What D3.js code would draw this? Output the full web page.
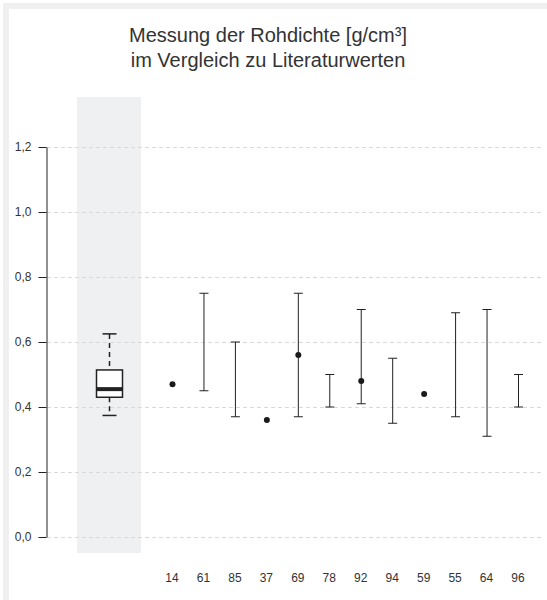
<!DOCTYPE html>
<html>
<head>
<meta charset="utf-8">
<script src="https://cdn.jsdelivr.net/npm/d3@7"></script>
<style>
  html, body { margin: 0; padding: 0; background: #ffffff; }
  svg { display: block; }
</style>
</head>
<body>
<svg id="chart" width="547" height="600"></svg>
<script>
const categories = ["14","61","85","37","69","78","92","94","59","55","64","96"];
const rangeLow  = [null,0.45,0.37,null,0.37,0.40,0.41,0.35,null,0.37,0.31,0.40];
const rangeHigh = [null,0.75,0.60,null,0.75,0.50,0.70,0.55,null,0.69,0.70,0.50];
const pointValues = [0.47,null,null,0.36,0.56,null,0.48,null,0.44,null,null,null];
// box plot of own measurements: [whiskerLow, q1, median, q3, whiskerHigh]
const boxStats = [0.374, 0.43, 0.455, 0.514, 0.625];
const yTicks = [0, 0.2, 0.4, 0.6, 0.8, 1.0, 1.2];
const titleLines = ["Messung der Rohdichte [g/cm³]", "im Vergleich zu Literaturwerten"];

const svg = d3.select("#chart");
const font = "'Liberation Sans', Arial, sans-serif";

// frame
svg.append("rect").attr("x",0).attr("y",0).attr("width",547).attr("height",600).attr("fill","#ffffff");
svg.append("rect").attr("x",3).attr("y",3).attr("width",560).attr("height",620).attr("fill","#f0f0f0");
svg.append("rect").attr("x",9).attr("y",9).attr("width",560).attr("height",620).attr("fill","#ffffff");

const y = d3.scaleLinear().domain([0, 1.2]).range([537, 147]);
const x = d3.scalePoint().domain(categories).range([172, 518]);
const boxX = 109.5;

const loc = d3.formatLocale({decimal: ",", thousands: ".", grouping: [3], currency: ["", "€"]});
const fmt = loc.format(".1f");

// grey band behind box plot
svg.append("rect").attr("x",77).attr("y",97).attr("width",64).attr("height",456).attr("fill","#eff0f2");

// gridlines
svg.append("g").selectAll("line").data(yTicks).join("line")
  .attr("x1",47).attr("x2",541)
  .attr("y1",d=>Math.round(y(d))+0.5).attr("y2",d=>Math.round(y(d))+0.5)
  .attr("stroke","#d9d9d9").attr("stroke-dasharray","4,3").attr("stroke-width",1);

// y axis
const yAxis = d3.axisLeft(y).tickValues(yTicks).tickFormat(fmt).tickSize(8).tickSizeOuter(0).tickPadding(7);
const gy = svg.append("g").attr("transform","translate(46.5,0)").call(yAxis);
gy.select(".domain").attr("stroke","#222");
gy.selectAll(".tick line").attr("stroke","#222");
gy.selectAll(".tick text").attr("fill","#333").attr("font-size","12px").attr("font-family",font);

// box plot
const g = svg.append("g");
const [wl, q1, med, q3, wh] = boxStats;
g.append("line").attr("x1",boxX).attr("x2",boxX).attr("y1",y(wh)).attr("y2",y(q3))
  .attr("stroke","#222").attr("stroke-width",1.5).attr("stroke-dasharray","5,4");
g.append("line").attr("x1",boxX).attr("x2",boxX).attr("y1",y(q1)).attr("y2",y(wl))
  .attr("stroke","#222").attr("stroke-width",1.5).attr("stroke-dasharray","5,4");
[wl, wh].forEach(v => {
  g.append("line").attr("x1",boxX-7).attr("x2",boxX+7).attr("y1",y(v)).attr("y2",y(v))
    .attr("stroke","#222").attr("stroke-width",1.5);
});
g.append("rect").attr("x",boxX-13).attr("width",26).attr("y",y(q3)).attr("height",y(q1)-y(q3))
  .attr("fill","#ffffff").attr("stroke","#222").attr("stroke-width",1.5);
g.append("line").attr("x1",boxX-13).attr("x2",boxX+13).attr("y1",y(med)).attr("y2",y(med))
  .attr("stroke","#222").attr("stroke-width",4);

// range bars
const bars = categories.map((c,i)=>({c, lo: rangeLow[i], hi: rangeHigh[i]})).filter(d=>d.lo!==null);
const bg = svg.append("g");
bg.selectAll("line.v").data(bars).join("line").attr("class","v")
  .attr("x1",d=>x(d.c)+0.5).attr("x2",d=>x(d.c)+0.5)
  .attr("y1",d=>y(d.hi)).attr("y2",d=>y(d.lo))
  .attr("stroke","#222").attr("stroke-width",1);
bg.selectAll("line.t").data(bars).join("line").attr("class","t")
  .attr("x1",d=>x(d.c)-4).attr("x2",d=>x(d.c)+5)
  .attr("y1",d=>y(d.hi)).attr("y2",d=>y(d.hi))
  .attr("stroke","#222").attr("stroke-width",1);
bg.selectAll("line.b").data(bars).join("line").attr("class","b")
  .attr("x1",d=>x(d.c)-4).attr("x2",d=>x(d.c)+5)
  .attr("y1",d=>y(d.lo)).attr("y2",d=>y(d.lo))
  .attr("stroke","#222").attr("stroke-width",1);

// points
const pts = categories.map((c,i)=>({c, v: pointValues[i]})).filter(d=>d.v!==null);
svg.append("g").selectAll("circle").data(pts).join("circle")
  .attr("cx",d=>x(d.c)+0.5).attr("cy",d=>y(d.v)).attr("r",3)
  .attr("fill","#1a1a1a");

// x labels
svg.append("g").selectAll("text").data(categories).join("text")
  .attr("x",d=>x(d)).attr("y",582).attr("text-anchor","middle")
  .attr("fill","#333").attr("font-size","12px").attr("font-family",font)
  .text(d=>d);

// title
svg.append("g").selectAll("text").data(titleLines).join("text")
  .attr("x",268).attr("y",(d,i)=>42+i*25).attr("text-anchor","middle")
  .attr("fill","#333").attr("font-size","20px").attr("font-family",font)
  .text(d=>d);
</script>
</body>
</html>
